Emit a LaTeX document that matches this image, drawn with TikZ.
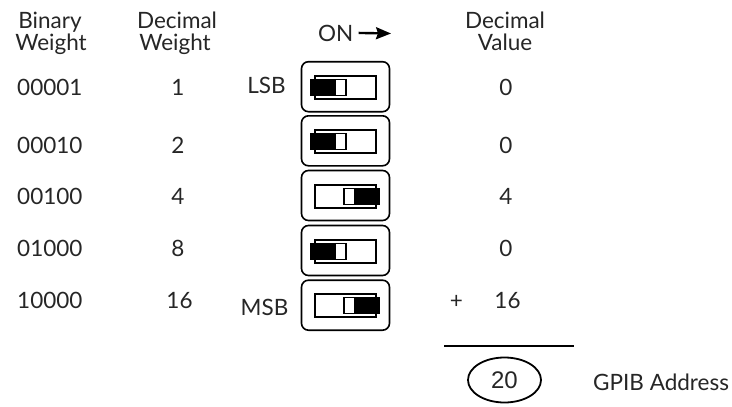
\documentclass[tikz,border=0pt]{standalone}
\usepackage{fontspec}
\setmainfont{Lato}
\newfontfamily\helvfont{Liberation Sans}
\usetikzlibrary{arrows.meta,shapes.geometric}

\newcommand\labelsize{\fontsize{22.5}{23}\selectfont}

\tikzset{
  lbl/.style={font=\labelsize, inner sep=0pt, anchor=base, text=black!85},
  lblw/.style={lbl, anchor=base west},
  swbox/.style={draw, rounded corners=7pt, line width=1.6pt,
                minimum width=88pt, minimum height=50pt, inner sep=0pt},
  swslot/.style={draw, line width=1.7pt, minimum width=61pt,
                 minimum height=23pt, inner sep=0pt},
  knoboff/.pic={
    \fill[black] (-35,-8) rectangle (-10,8);
    \draw[line width=1.3pt, fill=white] (-10,-8) rectangle (0.5,8);
    \draw[line width=1.3pt] (-35,-8) rectangle (0.5,8);
  },
  knobon/.pic={
    \fill[black] (9,-8) rectangle (34,8);
    \draw[line width=1.3pt, fill=white] (-1.5,-8) rectangle (9,8);
    \draw[line width=1.3pt] (-1.5,-8) rectangle (34,8);
  },
}

\begin{document}
\begin{tikzpicture}[x=1pt,y=-1pt]
\useasboundingbox (0,0) rectangle (732,407);

% column headings
\node[lbl] (hb1) at (50,28) {Binary};
\node[lbl] (hb2) at (51,50) {Weight};
\node[lbl] (hd1) at (177,28) {Decimal};
\node[lbl] (hd2) at (175,50) {Weight};
\node[lbl] (hv1) at (505,28) {Decimal};
\node[lbl] (hv2) at (505,50) {Value};

% ON direction marker
\node[lblw] (on) at (318,41) {ON};
\coordinate (onend) at (391,33.5);
\draw[line width=2.4pt, -{Stealth[length=15pt,width=12pt,inset=2pt]}]
  ([xshift=5pt]on.east) -- (onend);

% binary weights
\node[lblw] (b1) at (17,95)  {00001};
\node[lblw] (b2) at (17,153) {00010};
\node[lblw] (b3) at (17,204) {00100};
\node[lblw] (b4) at (17,256) {01000};
\node[lblw] (b5) at (17,308) {10000};

% decimal weights
\node[lbl] (d1) at (178,95)  {1};
\node[lbl] (d2) at (178,153) {2};
\node[lbl] (d3) at (178,204) {4};
\node[lbl] (d4) at (178,256) {8};
\node[lbl] (d5) at (179.5,308) {16};

\node[lbl] (lsb) at (266.5,93)  {LSB};
\node[lbl] (msb) at (264.5,315) {MSB};

% DIP switches
\node[swbox] (s1) at (345.5,86.7)  {};
\node[swbox] (s2) at (345.5,140.8) {};
\node[swbox] (s3) at (345.5,195.5) {};
\node[swbox] (s4) at (345.5,250.5) {};
\node[swbox] (s5) at (345.5,305.2) {};

\node[swslot] (t1) at ([yshift=-1pt]s1.center) {};
\node[swslot] (t2) at ([yshift=-0.5pt]s2.center) {};
\node[swslot] (t3) at ([yshift=-1pt]s3.center) {};
\node[swslot] (t4) at ([yshift=-1pt]s4.center) {};
\node[swslot] (t5) at ([yshift=-0.5pt]s5.center) {};

\pic at (t1.center) {knoboff};
\pic at (t2.center) {knoboff};
\pic at (t3.center) {knobon};
\pic at (t4.center) {knoboff};
\pic at (t5.center) {knobon};

% decimal values
\node[lbl] (v1) at (506,95)  {0};
\node[lbl] (v2) at (506,153) {0};
\node[lbl] (v3) at (506,204) {4};
\node[lbl] (v4) at (506,256) {0};
\node[lbl] (v5) at (507.5,308) {16};
\node[lbl] (plus) at (456.5,308) {+};

% sum line and result
\coordinate (sumL) at (444,346);
\coordinate (sumR) at (574,346);
\draw[line width=1.5pt] (sumL) -- (sumR);

\node[draw, ellipse, line width=1.8pt, minimum width=73pt, minimum height=45pt,
      inner sep=0pt, font=\helvfont\fontsize{24}{24}\selectfont, text=black!85]
  (addr) at (504.5,380) {20};
\node[lblw] (gpib) at (593,390) {GPIB Address};
\end{tikzpicture}
\end{document}
